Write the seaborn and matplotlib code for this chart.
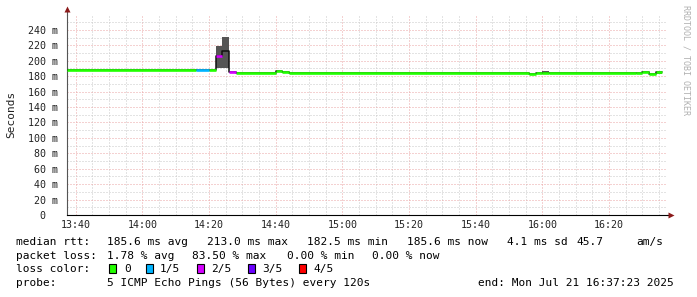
import numpy as np
import pandas as pd
import matplotlib
matplotlib.use("Agg")
import matplotlib.pyplot as plt
import matplotlib.dates as mdates
import seaborn as sns
from matplotlib.patches import Rectangle
from matplotlib.ticker import FixedLocator, FuncFormatter

# ---------------- data ----------------
DAY = "2025-07-21 "
window_start = "13:37:23"
window_end = "16:37:23"

seg_start = ["13:37:23", "14:16", "14:20", "14:22", "14:24", "14:26", "14:28",
             "14:40", "14:42", "14:44", "15:56", "15:58", "16:00", "16:02",
             "16:28", "16:30", "16:32", "16:34"]
data_end = "16:36"
rtt_ms = [188, 188, 188, 206, 213, 185, 184,
          187, 185.5, 184, 182.5, 183.5, 184, 184,
          183.5, 185, 183, 185.6]
loss = ["0", "1/5", "0", "2/5", "", "2/5", "0",
        "0", "0", "0", "0", "0", "0", "0",
        "0", "0", "0", "0"]

smoke_start = ["14:22", "14:24", "16:00", "16:34"]
smoke_end = ["14:24", "14:26", "16:02", "16:36"]
smoke_lo = [190, 190, 184, 183]
smoke_hi = [219.5, 231, 186.5, 185]

loss_levels = ["0", "1/5", "2/5", "3/5", "4/5"]
loss_colors = ["#22ff00", "#00b4ff", "#d400ff", "#6a00ff", "#ff0000"]

y_ticks = [0, 20, 40, 60, 80, 100, 120, 140, 160, 180, 200, 220, 240]

stats_row1 = [("median rtt:", 16), ("185.6 ms avg", 107), ("213.0 ms max", 207),
              ("182.5 ms min", 307), ("185.6 ms now", 407), ("4.1 ms sd", 507),
              ("45.7", 576), ("am/s", 636)]
stats_row2 = [("packet loss:", 16), ("1.78 % avg", 107), ("83.50 % max", 192),
              ("0.00 % min", 287), ("0.00 % now", 372)]
probe_row = [("probe:", 16), ("5 ICMP Echo Pings (56 Bytes) every 120s", 107),
             ("end: Mon Jul 21 16:37:23 2025", 478)]

# ---------------- figure ----------------
sns.set_style("white")
plt.rcParams["font.family"] = ["DejaVu Sans Mono", "DejaVu Sans"]

W, H = 697, 297
fig = plt.figure(figsize=(W / 100, H / 100), dpi=100)
fig.patch.set_facecolor("white")


def fx(x):
    return x / W


def fy(y):
    return 1 - y / H


ax = fig.add_axes([fx(67), fy(215), 600 / W, 200.5 / H])
ax.set_facecolor("white")

ts = lambda s: pd.Timestamp(DAY + s)
t = [ts(s) for s in seg_start]
t_all = t + [ts(data_end)]

# smoke
for s, e, lo, hi in zip(smoke_start, smoke_end, smoke_lo, smoke_hi):
    ax.fill_between([ts(s), ts(e)], [lo, lo], [hi, hi], color="#555555",
                    lw=0, zorder=2)

# median step line (dark) underneath
sns.lineplot(x=t_all, y=rtt_ms + [rtt_ms[-1]], drawstyle="steps-post",
             color="#111111", lw=1.1, estimator=None, sort=False, ax=ax,
             zorder=3)

# loss-coloured median segments
rows = []
for i in range(len(t)):
    if loss[i] == "":
        continue
    rows.append({"time": t_all[i], "rtt": rtt_ms[i], "loss": loss[i], "seg": i})
    rows.append({"time": t_all[i + 1], "rtt": rtt_ms[i], "loss": loss[i], "seg": i})
seg_df = pd.DataFrame(rows)
pal = dict(zip(loss_levels, loss_colors))
sns.lineplot(data=seg_df, x="time", y="rtt", hue="loss", units="seg",
             estimator=None, sort=False, palette=pal, lw=1.9, legend=False,
             ax=ax, zorder=4, solid_capstyle="butt")

ax.set_xlim(ts(window_start), ts(window_end))
ax.set_ylim(0, 260)

ax.xaxis.set_major_locator(mdates.MinuteLocator(byminute=[0, 20, 40]))
ax.xaxis.set_minor_locator(mdates.MinuteLocator(byminute=range(0, 60, 5)))
ax.xaxis.set_major_formatter(mdates.DateFormatter("%H:%M"))
ax.yaxis.set_major_locator(FixedLocator(y_ticks))
ax.yaxis.set_minor_locator(FixedLocator(list(range(10, 251, 20))))
ax.yaxis.set_major_formatter(FuncFormatter(
    lambda v, p: "0  " if v == 0 else f"{int(v)} m"))

ax.grid(which="major", color="#eaa4a4", ls=(0, (1, 2)), lw=0.72, zorder=0)
ax.grid(which="minor", color="#c8c8c8", ls=(0, (1, 2)), lw=0.72, zorder=0)
ax.set_axisbelow(True)

ax.tick_params(axis="both", which="both", colors="#222222", labelsize=7.2)
ax.tick_params(axis="y", which="major", length=2, width=0.7, color="#d08080", pad=4.5)
ax.tick_params(axis="y", which="minor", length=2, width=0.7, color="#c0c0c0")
ax.tick_params(axis="x", which="major", length=2, width=0.7, color="#d08080", pad=1.5)
ax.tick_params(axis="x", which="minor", length=0)

ax.set_xlabel("")
ax.set_ylabel("Seconds", fontsize=8, color="#222222")
ax.yaxis.label.set_va("center")
ax.yaxis.set_label_coords((11 - 67) / 600, (215 - 114) / 200.5)

for side in ("top", "right"):
    ax.spines[side].set_visible(False)
ax.spines["left"].set_color("#555555")
ax.spines["left"].set_linewidth(0.8)
ax.spines["bottom"].set_color("#000000")
ax.spines["bottom"].set_linewidth(0.8)

# axis extensions and arrow heads
ax.plot([0, 0], [1, 1.02], transform=ax.transAxes, clip_on=False,
        color="#555555", lw=0.8)
ax.plot([0], [1.025], marker="^", ms=4, color="#8b1a1a",
        transform=ax.transAxes, clip_on=False, mec="none")
ax.plot([1, 1.004], [0, 0], transform=ax.transAxes, clip_on=False,
        color="#000000", lw=0.8)
ax.plot([1.006], [0], marker=">", ms=4, color="#8b1a1a",
        transform=ax.transAxes, clip_on=False, mec="none")

# watermark
fig.text(fx(686), fy(60), "RRDTOOL / TOBI OETIKER", rotation=270,
         ha="center", va="center", fontsize=6, color="#b0b0b0")

# ---------------- text area ----------------
TXT = dict(fontsize=8, color="#000000", va="center", ha="left")
for txt, x in stats_row1:
    fig.text(fx(x), fy(242), txt, **TXT)
for txt, x in stats_row2:
    fig.text(fx(x), fy(256), txt, **TXT)
for txt, x in probe_row:
    fig.text(fx(x), fy(283), txt, **TXT)

fig.text(fx(16), fy(269), "loss color:", **TXT)
box_x = [109, 146, 197, 248, 299]
lab_x = [124, 160, 211, 262, 313]
for lvl, col, bx, lx in zip(loss_levels, loss_colors, box_x, lab_x):
    fig.add_artist(Rectangle((fx(bx), fy(273)), 7 / W, 9 / H,
                             transform=fig.transFigure, facecolor=col,
                             edgecolor="#000000", lw=0.8))
    fig.text(fx(lx), fy(269), lvl, **TXT)

fig.savefig("out.png", dpi=100, facecolor="white")
